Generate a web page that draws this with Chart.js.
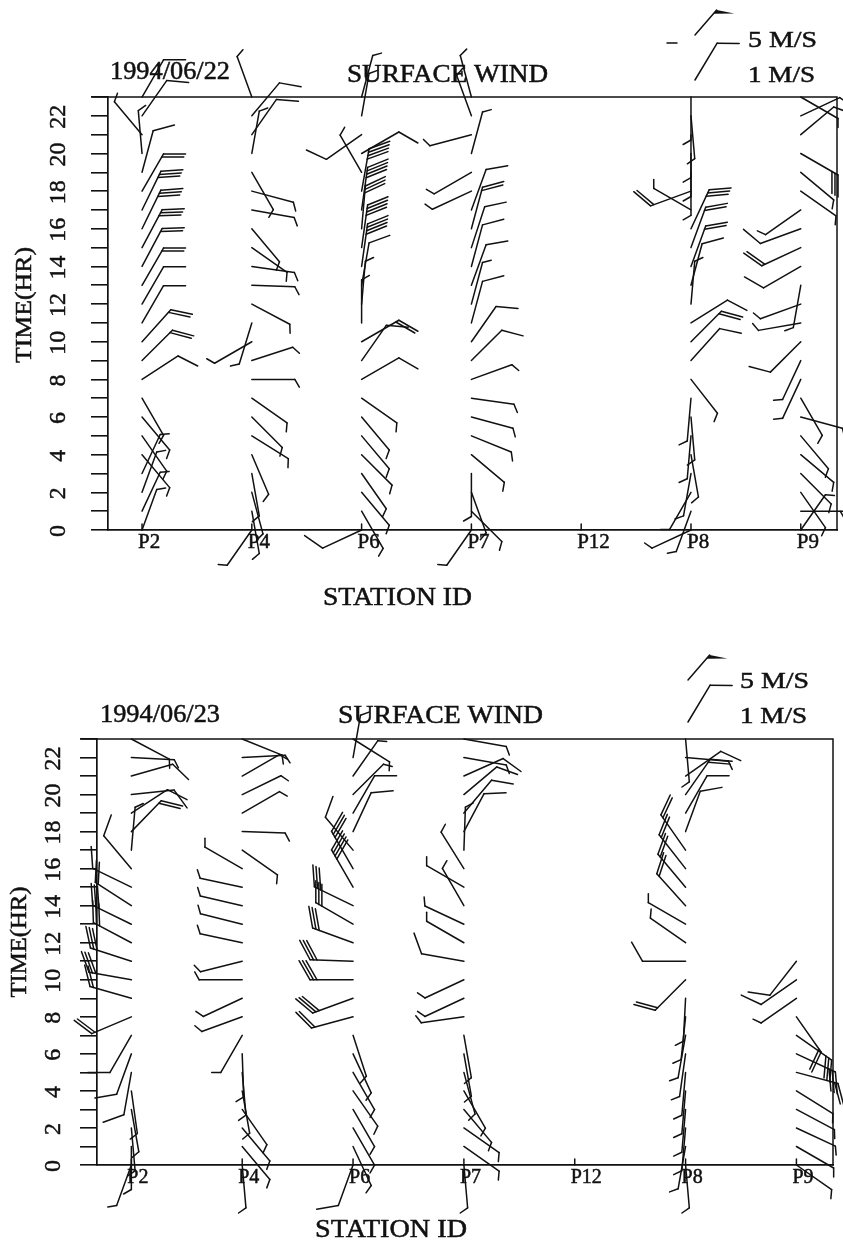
<!DOCTYPE html>
<html>
<head>
<meta charset="utf-8">
<script src="https://cdn.jsdelivr.net/npm/chart.js@4.4.0/dist/chart.umd.min.js"></script>
<style>
  body { margin: 0; background: #fff; }
  canvas { position: absolute; left: 0; }
</style>
</head>
<body>
<canvas id="day22" width="843" height="620" style="top:0"></canvas>
<canvas id="day23" width="843" height="623" style="top:620px"></canvas>
<script>
// stations along the x axis, hours 0..23 on the y axis
const stations = ["P2", "P4", "P6", "P7", "P12", "P8", "P9"];
const hours = [0,1,2,3,4,5,6,7,8,9,10,11,12,13,14,15,16,17,18,19,20,21,22,23];
const hourLabels = [0,2,4,6,8,10,12,14,16,18,20,22];
const none = hours.map(() => null);

// 1994/06/22 : wind direction (deg, from) and speed (m/s)
const p2Dir22 = [20,25,20,25,140,145,140,150,57,45,42,30,30,30,28,28,26,26,30,15,355,320,35,30];
const p2Spd22 = [0.5,0.5,0.5,0.5,0.5,0.5,0.5,0.5,1,2,2,1,1,2,2,3,3,3,2,1,0.5,0.5,1,1];
const p4Dir22 = [215,170,165,170,157,122,135,125,90,72,240,197,118,92,98,125,140,100,105,150,10,35,40,340];
const p4Spd22 = [0.5,0.5,0.5,0.5,0.5,0.5,0.5,0.5,0.5,0.5,0.5,0.5,0.5,0.5,0.5,0.5,0.5,0.5,0.5,0.5,0.5,1,1,0.5];
const p6Dir22 = [245,150,140,145,135,140,140,125,60,35,60,0,5,10,8,8,5,8,10,330,60,235,10,15];
const p6Spd22 = [1,0.5,0.5,0.5,0.5,0.5,0.5,0.5,1,1,2,0.5,0.5,1,4,4,3,4,4,0.5,1,1,0.5,0.5];
const p7Dir22 = [215,135,160,180,130,112,105,98,70,45,35,15,15,20,15,18,15,20,245,240,15,255,340,345];
const p7Spd22 = [0.5,0.5,0.5,0.5,0.5,0.5,0.5,0.5,0.5,1,1,1,0.5,1,1,1,2,1,0.5,0.5,0.5,0.5,0.5,0.5];
const p8Dir22 = [245,200,210,190,170,185,175,185,142,42,45,58,5,15,20,20,25,300,250,180,180,180,175,180];
const p8Spd22 = [0.5,0.5,0.5,0.5,0.5,0.5,0.5,0.5,0.5,1,2,1,0.5,1,2,2,3,0.5,2,0.5,0.5,0.5,0.5,0.5];
const p9Dir22 = [35,90,145,135,130,140,105,150,205,205,225,260,250,190,240,245,250,235,125,130,120,50,65,120];
const p9Spd22 = [0.5,2,0.5,0.5,0.5,0.5,0.5,0.5,0.5,0.5,1,0.5,0.5,0.5,1,2,1,0.5,0.5,0.5,3,1,1,0.5];

// 1994/06/23
const p2Dir23 = [200,180,175,170,172,190,200,210,247,286,280,288,298,296,303,296,320,5,44,57,84,74,93,118];
const p2Spd23 = [0.5,0.5,0.5,0.5,0.5,1,1,1,2,2,3,3,3,3,2,1,1,0.5,2,1,1,1,0.5,0.5];
const p4Dir23 = [175,140,140,145,170,175,178,210,250,245,270,256,282,284,283,282,300,125,92,60,64,60,87,112];
const p4Spd23 = [0.5,0.5,0.5,0.5,0.5,0.5,0.5,0.5,0.5,0.5,0.5,0.5,0.5,0.5,0.5,0.5,0.5,0.5,0.5,0.5,0.5,0.5,0.5,0.5];
const p6Dir23 = [200,155,150,150,145,150,155,162,255,250,270,272,290,300,296,330,330,320,25,30,45,35,10,122];
const p6Spd23 = [1,0.5,0.5,0.5,0.5,0.5,0.5,0.5,2,3,3,3,3,3,3,4,3,1,1,1,0.5,0.5,0.5,0.5];
const p7Dir23 = [175,125,125,140,150,165,170,170,262,245,245,280,300,295,330,300,328,2,28,40,50,66,100,100];
const p7Spd23 = [0.5,0.5,0.5,0.5,0.5,0.5,0.5,0.5,0.5,0.5,0.5,1,0.5,0.5,0.5,0.5,0.5,0.5,1,1,1,1,0.5,0.5];
const p8Dir23 = [175,190,185,185,185,185,188,190,186,183,225,270,305,300,318,320,322,325,20,30,35,55,95,175];
const p8Spd23 = [0.5,0.5,0.5,0.5,0.5,0.5,0.5,0.5,0.5,0.5,2,1,0.5,0.5,2,2,2,2,1,1,2,1,0.5,0.5];
const p9Dir23 = [125,120,115,118,122,105,115,125,145,235,235,218,null,null,null,null,null,null,null,null,null,null,null,null];
const p9Spd23 = [0.5,0.5,0.5,0.5,0.5,2,3,3,2,0.5,1,1,null,null,null,null,null,null,null,null,null,null,null,null];

const FONT = '"Liberation Serif", "Times New Roman", serif';
const INK = "#111";
const STAFF = 43, LONG = 22, SHORT = 9, GAP = 3.5;

function drawBarb(ctx, x, y, dir, spd, staff) {
  const len = staff || STAFF;
  const a = (dir - 90) * Math.PI / 180;
  const ux = Math.cos(a), uy = Math.sin(a);
  const tx = x + ux * len, ty = y + uy * len;
  const b = a + Math.PI / 3;
  const bx = Math.cos(b), by = Math.sin(b);
  ctx.beginPath();
  ctx.moveTo(x, y);
  ctx.lineTo(tx, ty);
  ctx.stroke();
  let pos = 0;
  const flags = Math.floor(spd / 5);
  const rem = spd - flags * 5;
  const longs = Math.floor(rem + 1e-6);
  const half = rem - longs >= 0.5 - 1e-6;
  for (let k = 0; k < flags; k++) {
    const px = tx - ux * pos, py = ty - uy * pos;
    ctx.beginPath();
    ctx.moveTo(px, py);
    ctx.lineTo(px + bx * (LONG - 4), py + by * (LONG - 4));
    ctx.lineTo(px - ux * 5, py - uy * 5);
    ctx.closePath();
    ctx.fill();
    pos += 6;
  }
  ctx.beginPath();
  for (let k = 0; k < longs; k++) {
    const px = tx - ux * pos, py = ty - uy * pos;
    ctx.moveTo(px, py);
    ctx.lineTo(px + bx * LONG, py + by * LONG);
    pos += GAP;
  }
  if (half) {
    const px = tx - ux * pos, py = ty - uy * pos;
    ctx.moveTo(px, py);
    ctx.lineTo(px + bx * SHORT, py + by * SHORT);
  }
  ctx.stroke();
}

// scanned lettering is heavy, so fill and add a thin outline
function ink(ctx, str) {
  ctx.fillText(str, 0, 0);
  ctx.lineWidth = 0.5;
  ctx.strokeText(str, 0, 0);
}

function fitText(ctx, str, x, baseline, width, size) {
  ctx.save();
  ctx.font = size + "px " + FONT;
  const w = ctx.measureText(str).width;
  ctx.translate(x, baseline);
  ctx.scale(width / w, 1);
  ctx.textAlign = "left";
  ctx.textBaseline = "alphabetic";
  ink(ctx, str);
  ctx.restore();
}

function upText(ctx, str, cx, cy, size, len) {
  ctx.save();
  ctx.font = size + "px " + FONT;
  ctx.translate(cx, cy);
  ctx.rotate(-Math.PI / 2);
  if (len) ctx.scale(len / ctx.measureText(str).width, 1);
  ctx.textAlign = "center";
  ctx.textBaseline = "middle";
  ink(ctx, str);
  ctx.restore();
}

const windPlugin = {
  id: "wind",
  afterDraw(chart) {
    const ctx = chart.ctx, xs = chart.scales.x, ys = chart.scales.y, area = chart.chartArea;
    const L = chart.options.plugins.wind;
    ctx.save();
    ctx.strokeStyle = INK;
    ctx.fillStyle = INK;
    ctx.lineWidth = 1.5;
    ctx.lineCap = "round";

    // frame top and right
    ctx.beginPath();
    ctx.moveTo(area.left - 16, area.top);
    ctx.lineTo(area.right, area.top);
    ctx.lineTo(area.right, area.bottom);
    ctx.stroke();

    // station ticks pointing into the plot
    stations.forEach((s, i) => {
      const px = xs.getPixelForValue(i);
      ctx.beginPath();
      ctx.moveTo(px, area.bottom);
      ctx.lineTo(px, area.bottom - 6);
      ctx.stroke();
    });

    // wind barbs
    chart.getDatasetMeta(0).data.forEach((el, i) => {
      const p = chart.data.datasets[0].data[i];
      ctx.lineWidth = 1.5;
      drawBarb(ctx, el.x, el.y, p.dir, p.spd);
    });

    // legend symbols
    drawBarb(ctx, L.flag[0], L.flag[1], 41, 5, 33);
    drawBarb(ctx, L.bar[0], L.bar[1], 31, 1, 43);
    if (L.dash) {
      ctx.beginPath();
      ctx.moveTo(L.dash[0], L.dash[1]);
      ctx.lineTo(L.dash[0] + 10, L.dash[1]);
      ctx.stroke();
    }

    // texts
    fitText(ctx, L.date, L.dateAt[0], L.dateAt[1], 120, 25);
    fitText(ctx, "SURFACE WIND", L.titleAt[0], L.titleAt[1], L.titleAt[2], 25);
    fitText(ctx, "5 M/S", L.m5[0], L.m5[1], 69, 24);
    fitText(ctx, "1 M/S", L.m1[0], L.m1[1], 67, 24);
    fitText(ctx, "STATION ID", L.xTitle[0], L.xTitle[1], L.xTitle[2], 25);
    upText(ctx, "TIME(HR)", L.yTitle[0], L.yTitle[1], 24, L.yTitle[2]);
    hourLabels.forEach(h => upText(ctx, String(h), L.yLab, ys.getPixelForValue(h) + 1, 24));
    stations.forEach((s, i) => {
      ctx.save();
      ctx.font = L.stFont + "px " + FONT;
      ctx.textAlign = "left";
      ctx.textBaseline = "alphabetic";
      ctx.translate(xs.getPixelForValue(i) - 4, L.stBase);
      ink(ctx, s);
      ctx.restore();
    });
    ctx.restore();
  }
};

function makeChart(id, dirs, spds, box, labels) {
  const pts = [];
  stations.forEach((s, i) => {
    hours.forEach(h => {
      if (dirs[i][h] != null) pts.push({ x: i, y: h, dir: dirs[i][h], spd: spds[i][h] });
    });
  });
  const canvas = document.getElementById(id);
  return new Chart(canvas, {
    type: "scatter",
    data: { datasets: [{ data: pts, pointRadius: 0, pointHoverRadius: 0 }] },
    options: {
      responsive: false,
      animation: false,
      events: [],
      layout: { padding: { top: box.top, right: canvas.width - box.right, left: 0, bottom: 0 } },
      plugins: { legend: { display: false }, tooltip: { enabled: false }, wind: labels },
      scales: {
        x: {
          type: "linear", min: -0.31, max: 6.33,
          ticks: { display: false },
          grid: { display: false },
          border: { display: true, color: INK, width: 1.7 },
          afterFit: s => { s.height = canvas.height - box.bottom; }
        },
        y: {
          type: "linear", min: 0, max: 23,
          ticks: { display: false, stepSize: 1, includeBounds: false },
          grid: { drawOnChartArea: false, drawTicks: true, tickLength: 17, color: INK, lineWidth: 1.6 },
          border: { display: true, color: INK, width: 1.7 },
          afterFit: s => { s.width = box.left; }
        }
      }
    },
    plugins: [windPlugin]
  });
}

makeChart("day22",
  [p2Dir22, p4Dir22, p6Dir22, p7Dir22, none, p8Dir22, p9Dir22],
  [p2Spd22, p4Spd22, p6Spd22, p7Spd22, none, p8Spd22, p9Spd22],
  { left: 108, right: 837, top: 97, bottom: 530 },
  { date: "1994/06/22", dateAt: [110, 79], titleAt: [347, 82, 201], m5: [748, 47], m1: [748, 82],
    flag: [695, 35], bar: [695, 80], dash: [667, 43],
    xTitle: [323, 605, 149], yTitle: [25, 305, 116], yLab: 59, stFont: 21, stBase: 548 });

makeChart("day23",
  [p2Dir23, p4Dir23, p6Dir23, p7Dir23, none, p8Dir23, p9Dir23],
  [p2Spd23, p4Spd23, p6Spd23, p7Spd23, none, p8Spd23, p9Spd23],
  { left: 97, right: 833, top: 119, bottom: 545 },
  { date: "1994/06/23", dateAt: [100, 102], titleAt: [338, 103, 205], m5: [740, 68], m1: [740, 103],
    flag: [688, 60], bar: [688, 102], dash: null,
    xTitle: [315, 617, 152], yTitle: [20, 322, 111], yLab: 54, stFont: 20, stBase: 563 });
</script>
</body>
</html>
